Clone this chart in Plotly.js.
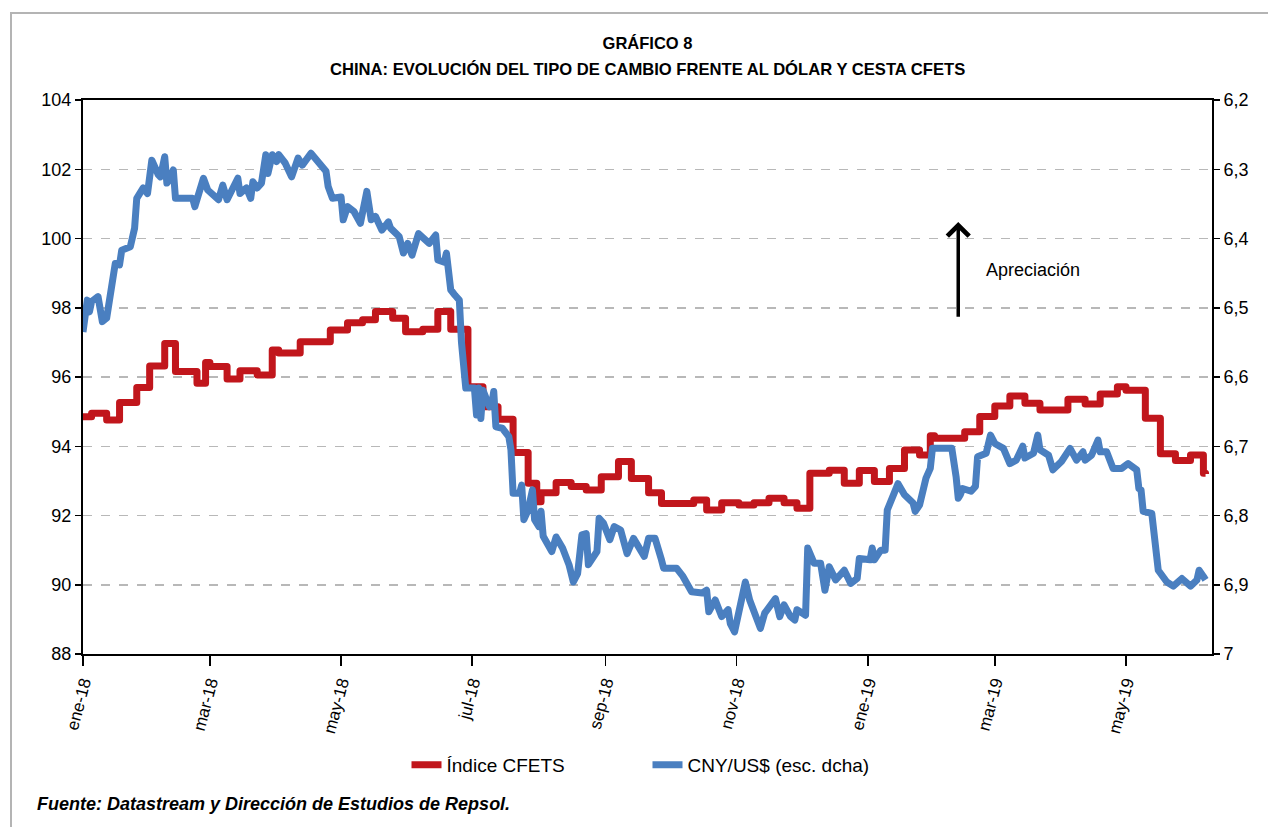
<!DOCTYPE html>
<html>
<head>
<meta charset="utf-8">
<script src="https://cdn.plot.ly/plotly-3.0.1.min.js"></script>
<style>
  html, body { margin: 0; padding: 0; background: #fff; }
  #wrap { position: relative; width: 1268px; height: 827px; }
  #chart { position: absolute; left: 0; top: 0; width: 1268px; height: 827px; }
  #frame { position: absolute; left: 10px; top: 12px; right: 0; bottom: 0;
           border-top: 2px solid #b4b4b4; border-left: 2px solid #b4b4b4; pointer-events: none; }
  #chart path.js-line { stroke-linejoin: round; }
</style>
</head>
<body>
<div id="wrap"><div id="chart"></div><div id="frame"></div></div>
<script>
// Índice CFETS (left axis) - change points of the step series
const cfetsDates = ['2018-01-01','2018-01-05','2018-01-12','2018-01-18','2018-01-26','2018-02-01','2018-02-08','2018-02-13','2018-02-23','2018-02-27','2018-03-01','2018-03-09','2018-03-15','2018-03-23','2018-03-30','2018-04-02','2018-04-12','2018-04-26','2018-05-04','2018-05-11','2018-05-17','2018-05-25','2018-05-31','2018-06-08','2018-06-15','2018-06-21','2018-06-29','2018-07-06','2018-07-13','2018-07-20','2018-07-27','2018-07-31','2018-08-02','2018-08-09','2018-08-16','2018-08-23','2018-08-30','2018-09-07','2018-09-13','2018-09-21','2018-09-27','2018-10-12','2018-10-18','2018-10-25','2018-11-02','2018-11-09','2018-11-16','2018-11-23','2018-11-29','2018-12-05','2018-12-14','2018-12-21','2018-12-28','2019-01-04','2019-01-11','2019-01-18','2019-01-25','2019-01-30','2019-02-01','2019-02-15','2019-02-22','2019-03-01','2019-03-08','2019-03-15','2019-03-22','2019-04-04','2019-04-12','2019-04-19','2019-04-27','2019-05-01','2019-05-10','2019-05-17','2019-05-24','2019-05-31','2019-06-06','2019-06-07'];
const cfetsValues = [94.85,94.95,94.76,95.26,95.70,96.32,96.97,96.16,95.82,96.42,96.30,95.94,96.18,96.06,96.78,96.69,97.02,97.36,97.57,97.65,97.89,97.70,97.31,97.38,97.89,97.38,95.72,95.14,94.78,93.82,92.93,92.40,92.66,92.95,92.84,92.74,93.12,93.56,93.07,92.66,92.35,92.45,92.16,92.37,92.30,92.37,92.50,92.37,92.21,93.22,93.31,92.93,93.30,92.98,93.36,93.89,93.75,94.30,94.23,94.42,94.86,95.16,95.45,95.24,95.05,95.36,95.22,95.51,95.72,95.62,94.81,93.78,93.59,93.75,93.22,93.20];

// CNY/US$ (right axis, reversed)
const cnyDates = ['2018-01-01','2018-01-03','2018-01-04','2018-01-05','2018-01-08','2018-01-10','2018-01-12','2018-01-16','2018-01-18','2018-01-19','2018-01-23','2018-01-25','2018-01-26','2018-01-29','2018-01-31','2018-02-02','2018-02-05','2018-02-06','2018-02-08','2018-02-09','2018-02-10','2018-02-12','2018-02-13','2018-02-21','2018-02-22','2018-02-26','2018-02-28','2018-03-05','2018-03-07','2018-03-09','2018-03-14','2018-03-15','2018-03-18','2018-03-20','2018-03-21','2018-03-23','2018-03-25','2018-03-27','2018-03-28','2018-03-30','2018-04-01','2018-04-02','2018-04-05','2018-04-08','2018-04-11','2018-04-13','2018-04-17','2018-04-20','2018-04-24','2018-04-25','2018-04-27','2018-05-01','2018-05-02','2018-05-04','2018-05-07','2018-05-10','2018-05-13','2018-05-15','2018-05-17','2018-05-20','2018-05-23','2018-05-24','2018-05-28','2018-05-30','2018-06-01','2018-06-03','2018-06-06','2018-06-11','2018-06-14','2018-06-15','2018-06-18','2018-06-19','2018-06-21','2018-06-23','2018-06-25','2018-06-26','2018-06-28','2018-07-02','2018-07-03','2018-07-04','2018-07-05','2018-07-06','2018-07-09','2018-07-10','2018-07-11','2018-07-12','2018-07-15','2018-07-18','2018-07-19','2018-07-20','2018-07-23','2018-07-24','2018-07-25','2018-07-27','2018-07-29','2018-07-30','2018-08-01','2018-08-02','2018-08-03','2018-08-07','2018-08-09','2018-08-12','2018-08-15','2018-08-17','2018-08-19','2018-08-21','2018-08-23','2018-08-24','2018-08-26','2018-08-28','2018-08-29','2018-08-31','2018-09-03','2018-09-05','2018-09-08','2018-09-11','2018-09-14','2018-09-17','2018-09-19','2018-09-21','2018-09-24','2018-09-27','2018-09-28','2018-10-04','2018-10-07','2018-10-11','2018-10-16','2018-10-18','2018-10-19','2018-10-22','2018-10-25','2018-10-28','2018-10-29','2018-10-31','2018-11-02','2018-11-05','2018-11-07','2018-11-09','2018-11-12','2018-11-14','2018-11-16','2018-11-19','2018-11-21','2018-11-23','2018-11-26','2018-11-28','2018-11-29','2018-12-03','2018-12-04','2018-12-07','2018-12-10','2018-12-12','2018-12-14','2018-12-17','2018-12-19','2018-12-21','2018-12-24','2018-12-27','2018-12-28','2019-01-02','2019-01-03','2019-01-04','2019-01-07','2019-01-09','2019-01-10','2019-01-15','2019-01-18','2019-01-22','2019-01-23','2019-01-25','2019-01-28','2019-01-30','2019-01-31','2019-02-09','2019-02-11','2019-02-12','2019-02-13','2019-02-14','2019-02-18','2019-02-20','2019-02-21','2019-02-25','2019-02-27','2019-03-01','2019-03-05','2019-03-08','2019-03-11','2019-03-14','2019-03-15','2019-03-19','2019-03-21','2019-03-22','2019-03-26','2019-03-28','2019-04-01','2019-04-05','2019-04-08','2019-04-11','2019-04-12','2019-04-15','2019-04-18','2019-04-19','2019-04-22','2019-04-25','2019-04-29','2019-05-02','2019-05-06','2019-05-07','2019-05-08','2019-05-09','2019-05-13','2019-05-15','2019-05-16','2019-05-20','2019-05-23','2019-05-27','2019-05-31','2019-06-03','2019-06-04','2019-06-06','2019-06-07'];
const cnyValues = [6.535,6.489,6.506,6.491,6.484,6.520,6.515,6.436,6.438,6.417,6.412,6.385,6.342,6.327,6.335,6.287,6.308,6.311,6.282,6.320,6.316,6.301,6.342,6.342,6.354,6.313,6.330,6.344,6.323,6.344,6.313,6.335,6.327,6.342,6.318,6.327,6.320,6.279,6.306,6.279,6.289,6.279,6.291,6.311,6.284,6.294,6.277,6.287,6.303,6.325,6.342,6.340,6.373,6.354,6.361,6.378,6.332,6.373,6.368,6.388,6.376,6.385,6.397,6.421,6.407,6.424,6.393,6.407,6.395,6.431,6.434,6.421,6.474,6.482,6.489,6.550,6.616,6.616,6.655,6.616,6.660,6.619,6.643,6.640,6.621,6.672,6.674,6.686,6.705,6.768,6.768,6.756,6.806,6.792,6.763,6.806,6.816,6.794,6.830,6.852,6.831,6.847,6.871,6.896,6.884,6.828,6.826,6.871,6.859,6.852,6.804,6.811,6.835,6.816,6.821,6.855,6.833,6.852,6.859,6.833,6.833,6.864,6.876,6.876,6.888,6.910,6.912,6.908,6.939,6.922,6.946,6.936,6.956,6.968,6.936,6.896,6.922,6.941,6.963,6.941,6.932,6.920,6.946,6.929,6.946,6.951,6.936,6.944,6.847,6.869,6.869,6.908,6.874,6.893,6.886,6.879,6.898,6.891,6.862,6.864,6.847,6.864,6.850,6.850,6.792,6.754,6.770,6.782,6.794,6.785,6.746,6.732,6.703,6.703,6.744,6.775,6.770,6.761,6.765,6.758,6.715,6.710,6.684,6.696,6.703,6.725,6.720,6.700,6.717,6.710,6.684,6.705,6.713,6.734,6.722,6.703,6.720,6.708,6.720,6.713,6.691,6.708,6.708,6.732,6.732,6.725,6.734,6.761,6.763,6.794,6.797,6.864,6.879,6.896,6.902,6.891,6.902,6.893,6.879,6.888,6.893];

const xTickVals = ['2018-01-01','2018-03-01','2018-05-01','2018-07-01','2018-09-01','2018-11-01','2019-01-01','2019-03-01','2019-05-01'];
const xTickText = ['ene-18','mar-18','may-18','jul-18','sep-18','nov-18','ene-19','mar-19','may-19'];

const seriesNames = ['Índice CFETS', 'CNY/US$ (esc. dcha)'];
const titleLine1 = 'GRÁFICO 8';
const titleLine2 = 'CHINA: EVOLUCIÓN DEL TIPO DE CAMBIO FRENTE AL DÓLAR Y CESTA CFETS';
const sourceText = 'Fuente: Datastream y Dirección de Estudios de Repsol.';
const arrowLabel = 'Apreciación';

const FONT = 'Liberation Sans, Arial, Helvetica, sans-serif';

const traces = [
  {
    x: cfetsDates, y: cfetsValues, name: seriesNames[0], type: 'scatter', mode: 'lines',
    line: { color: '#c1161c', width: 7, shape: 'hv' }, yaxis: 'y'
  },
  {
    x: cnyDates, y: cnyValues, name: seriesNames[1], type: 'scatter', mode: 'lines',
    line: { color: '#4a7fc0', width: 7 }, yaxis: 'y2'
  }
];

const layout = {
  width: 1268, height: 827,
  paper_bgcolor: 'rgba(0,0,0,0)', plot_bgcolor: '#fff',
  separators: ',.',
  margin: { l: 83, r: 56, t: 100, b: 173 },
  font: { family: FONT, color: '#000', size: 18 },
  showlegend: true,
  hovermode: false,
  title: { text: '<b>' + titleLine1 + '</b>', font: { family: FONT, size: 16.5, color: '#000' },
           x: 0.5, xanchor: 'center', xref: 'paper', y: 1 - 43 / 827, yanchor: 'middle', yref: 'container' },
  legend: { orientation: 'h', x: 0.5, xanchor: 'center', y: -0.2, yanchor: 'middle',
            font: { family: FONT, size: 19, color: '#000' }, entrywidth: 196, traceorder: 'normal' },
  xaxis: {
    type: 'date', range: ['2018-01-01', '2019-06-10'],
    tickvals: xTickVals, ticktext: xTickText, tickangle: -75,
    ticks: 'outside', ticklen: 10, tickwidth: 1.5, tickcolor: '#000',
    showline: true, linecolor: '#000', linewidth: 2, mirror: true,
    showgrid: false, zeroline: false,
    tickfont: { family: FONT, size: 17, color: '#000' }
  },
  yaxis: {
    range: [88, 104], dtick: 2, tick0: 88,
    ticks: 'outside', ticklen: 6, tickwidth: 1.5, tickcolor: '#000',
    showline: true, linecolor: '#000', linewidth: 2,
    showgrid: true, gridcolor: '#b8b8b8', griddash: 'dash', gridwidth: 1.5,
    zeroline: false, tickfont: { family: FONT, size: 18, color: '#000' }
  },
  yaxis2: {
    overlaying: 'y', side: 'right', range: [7, 6.2], dtick: 0.1, tick0: 6.2,
    ticks: 'outside', ticklen: 6, tickwidth: 1.5, tickcolor: '#000',
    showline: true, linecolor: '#000', linewidth: 2,
    showgrid: false, zeroline: false, tickfont: { family: FONT, size: 18, color: '#000' }
  },
  annotations: [
    { text: '<b>' + titleLine2 + '</b>', xref: 'paper', yref: 'paper', x: 0.5, y: (654 - 70) / 554,
      xanchor: 'center', yanchor: 'middle', showarrow: false, font: { family: FONT, size: 16.6, color: '#000' } },
    { text: '<b><i>' + sourceText + '</i></b>', xref: 'paper', yref: 'paper', x: (35 - 83) / 1129, y: (654 - 804) / 554,
      xanchor: 'left', yanchor: 'middle', showarrow: false, font: { family: FONT, size: 18, color: '#000' } },
    { text: '', x: '2019-02-12', y: 100.48, xref: 'x', yref: 'y', ax: '2019-02-12', ay: 97.70, axref: 'x', ayref: 'y',
      showarrow: true, arrowhead: 4, arrowsize: 1.2, arrowwidth: 3.5, arrowcolor: '#000' },
    { text: arrowLabel, x: '2019-02-24', y: 99.09, xref: 'x', yref: 'y', xanchor: 'left', yanchor: 'middle',
      showarrow: false, font: { family: FONT, size: 18, color: '#000' } }
  ]
};

Plotly.newPlot('chart', traces, layout, { displayModeBar: false, staticPlot: true });
</script>
</body>
</html>
